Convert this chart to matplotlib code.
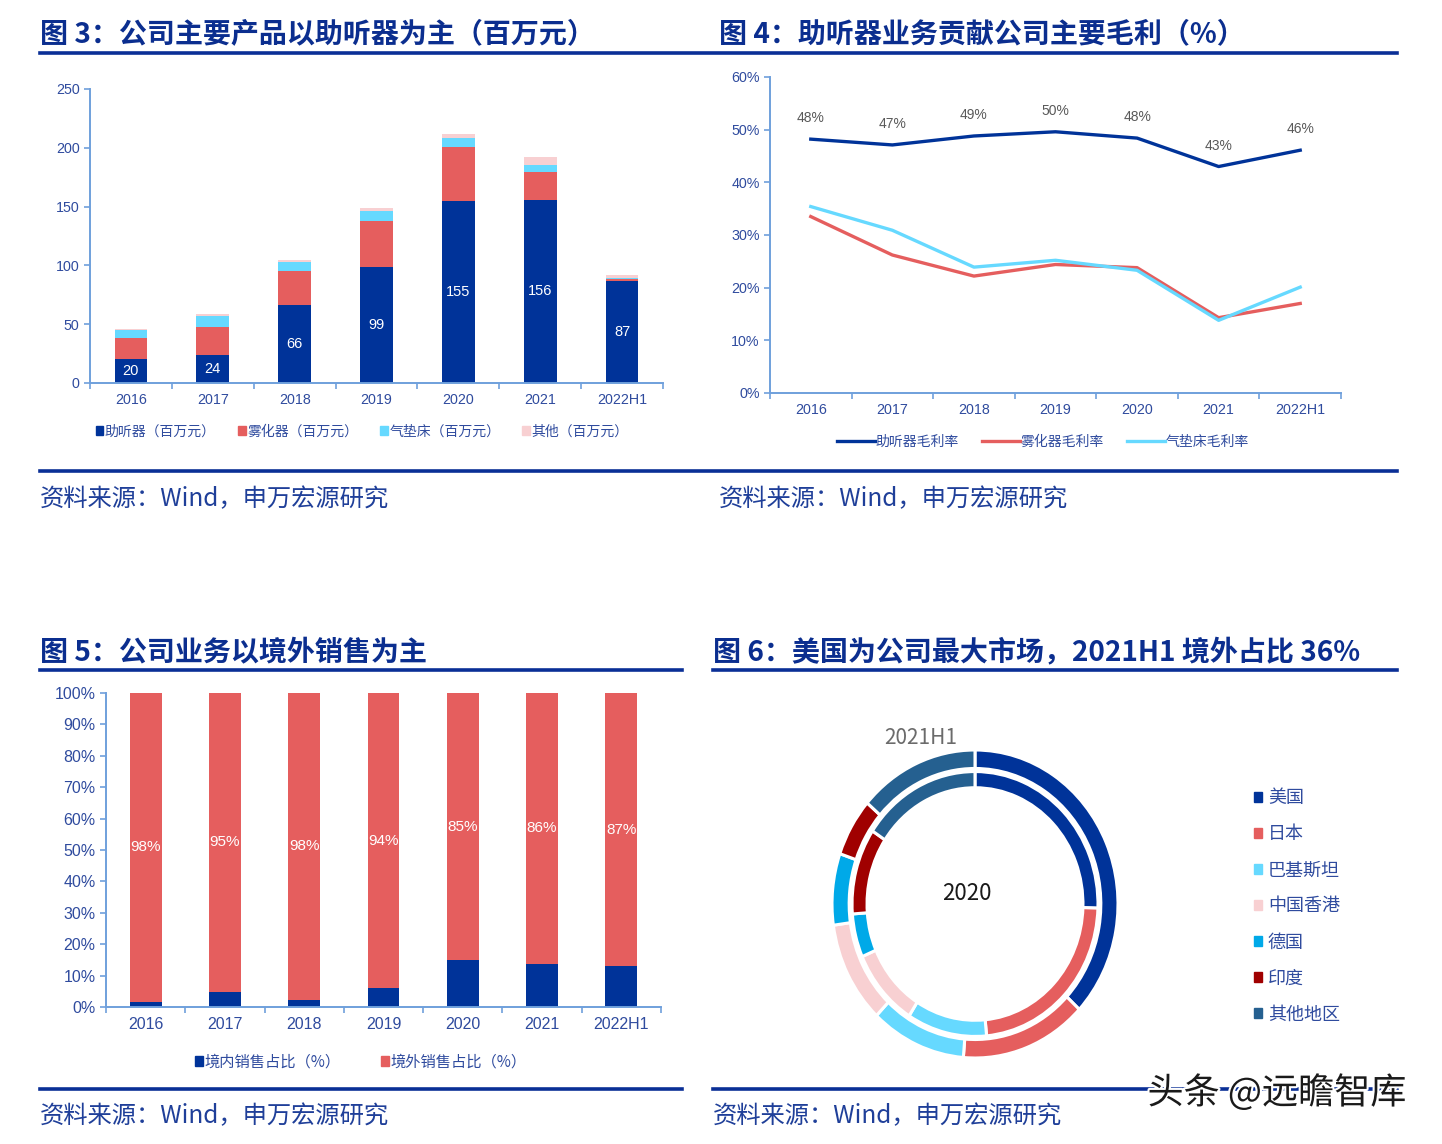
import numpy as np
import matplotlib
matplotlib.use('Agg')
import matplotlib.pyplot as plt
from matplotlib.patches import Patch
from matplotlib.lines import Line2D
import matplotlib.patheffects as pe

plt.rcParams['font.family'] = ['Noto Sans CJK SC', 'DejaVu Sans']
plt.rcParams['axes.unicode_minus'] = False

# ================================================================
# Data
# ================================================================
years = ['2016', '2017', '2018', '2019', '2020', '2021', '2022H1']

# Fig 3: revenue by product (million yuan)
hearing = [20, 24, 66, 99, 155, 156, 87]
nebulizer = [18.5, 23.5, 29, 39, 46, 23, 1.5]
air_bed = [6.5, 9.5, 7.5, 8, 7, 6, 0.5]
other = [1, 1.5, 2, 3, 4, 7, 3]
product_names = ['助听器（百万元）', '雾化器（百万元）', '气垫床（百万元）', '其他（百万元）']

# Fig 4: gross margin (%)
margin_hearing = [48.2, 47.1, 48.8, 49.6, 48.4, 43.0, 46.1]
margin_nebulizer = [33.5, 26.2, 22.2, 24.4, 23.8, 14.3, 17.0]
margin_air_bed = [35.4, 30.9, 23.9, 25.2, 23.3, 13.8, 20.1]
margin_names = ['助听器毛利率', '雾化器毛利率', '气垫床毛利率']

# Fig 5: domestic / overseas sales share (%)
domestic = [1.7, 4.8, 2.3, 6.0, 14.9, 13.8, 12.9]
overseas = [98.3, 95.2, 97.7, 94.0, 85.1, 86.2, 87.1]
sales_names = ['境内销售占比（%）', '境外销售占比（%）']

# Fig 6: overseas market split (%)
regions = ['美国', '日本', '巴基斯坦', '中国香港', '德国', '印度', '其他地区']
share_2021h1 = [37.0, 14.3, 10.8, 10.7, 7.5, 6.1, 13.6]
share_2020 = [25.5, 23.0, 10.5, 9.5, 5.3, 10.5, 15.7]

# ================================================================
# Style
# ================================================================
NAVY = '#003399'
RED = '#E55E5E'
CYAN = '#66D9FF'
PINK = '#F8D0D2'
DE_BLUE = '#00A9E8'
DARK_RED = '#A00000'
STEEL = '#256090'
TICK = '#2F4B9E'
SPINE = '#6FA0DC'
TITLE = '#0B2E8F'
RULE = '#0A2F96'
NUM = ['Liberation Sans', 'DejaVu Sans']

W, H = 1442, 1144
fig = plt.figure(figsize=(W / 100, H / 100), dpi=100)


def box(x0, x1, y_top, y_bot):
    return [x0 / W, 1 - y_bot / H, (x1 - x0) / W, (y_bot - y_top) / H]


def hline(x0, x1, y, lw=2.6):
    fig.add_artist(Line2D([x0 / W, x1 / W], [1 - y / H, 1 - y / H],
                          color=RULE, lw=lw, transform=fig.transFigure))


def ftext(x, y, s, **kw):
    fig.text(x / W, 1 - y / H, s, **kw)


def style_axis(ax, fs):
    for s in ['top', 'right']:
        ax.spines[s].set_visible(False)
    for s in ['left', 'bottom']:
        ax.spines[s].set_color(SPINE)
        ax.spines[s].set_linewidth(1.4)
    ax.tick_params(axis='y', colors=SPINE, labelcolor=TICK, length=4, width=1.2, labelsize=fs)
    ax.tick_params(axis='x', which='major', length=0, labelcolor=TICK, labelsize=fs, pad=7)
    ax.tick_params(axis='x', which='minor', colors=SPINE, length=4, width=1.2)
    ax.set_xticks(np.arange(-0.5, len(years), 1), minor=True)
    for lab in ax.get_xticklabels() + ax.get_yticklabels():
        lab.set_family(NUM)


# titles, rules, sources
title_kw = dict(fontsize=20.2, fontweight='bold', color=TITLE, va='center', ha='left')
ftext(40, 34, '图 3：公司主要产品以助听器为主（百万元）', **title_kw)
ftext(719, 34, '图 4：助听器业务贡献公司主要毛利（%）', **title_kw)
ftext(40, 652, '图 5：公司业务以境外销售为主', **title_kw)
ftext(713, 652, '图 6：美国为公司最大市场，2021H1 境外占比 36%', **title_kw)
hline(40, 1397, 53)
hline(40, 682, 670)
hline(713, 1397, 670)
hline(40, 1397, 471)
hline(40, 682, 1089)
hline(713, 1397, 1089)
src_kw = dict(fontsize=17.5, color='#1F3F99', va='center', ha='left')
ftext(40, 499, '资料来源：Wind，申万宏源研究', **src_kw)
ftext(719, 499, '资料来源：Wind，申万宏源研究', **src_kw)
ftext(40, 1116, '资料来源：Wind，申万宏源研究', **src_kw)
ftext(713, 1116, '资料来源：Wind，申万宏源研究', **src_kw)

# ================================================================
# Fig 3: stacked bars
# ================================================================
x = np.arange(len(years))
ax1 = fig.add_axes(box(90, 663, 89, 383))
bw = 0.4
b0 = np.zeros(len(years))
for vals, col in zip([hearing, nebulizer, air_bed, other], [NAVY, RED, CYAN, PINK]):
    ax1.bar(x, vals, bw, bottom=b0, color=col, linewidth=0)
    b0 = b0 + np.array(vals)
for xi, v in zip(x, hearing):
    ax1.text(xi, v / 2, f'{v}', ha='center', va='center', color='white',
             fontsize=10.5, family=NUM)
ax1.set_xlim(-0.5, len(years) - 0.5)
ax1.set_ylim(0, 250)
ax1.set_yticks(range(0, 251, 50))
ax1.set_xticks(x)
ax1.set_xticklabels(years)
style_axis(ax1, 10.3)
handles = [Patch(color=c) for c in [NAVY, RED, CYAN, PINK]]
ax1.legend(handles, product_names, loc='center', bbox_to_anchor=(0.475, -0.165),
           ncol=4, frameon=False, fontsize=10, handlelength=0.55, handleheight=0.55,
           handletextpad=0.1, columnspacing=1.6, labelcolor=TICK)

# ================================================================
# Fig 4: margin lines
# ================================================================
ax2 = fig.add_axes(box(770, 1341, 77, 393))
for vals, col in zip([margin_hearing, margin_nebulizer, margin_air_bed], [NAVY, RED, CYAN]):
    ax2.plot(x, vals, color=col, lw=2.4, solid_joinstyle='round')
for xi, v in zip(x, margin_hearing):
    ax2.annotate(f'{v:.0f}%', (xi, v), xytext=(0, 10), textcoords='offset points',
                 ha='center', va='bottom', color='#595959', fontsize=10, family=NUM)
ax2.set_xlim(-0.5, len(years) - 0.5)
ax2.set_ylim(0, 60)
ax2.set_yticks(range(0, 61, 10))
ax2.set_yticklabels([f'{t}%' for t in range(0, 61, 10)])
ax2.set_xticks(x)
ax2.set_xticklabels(years)
style_axis(ax2, 10.3)
lh = [Line2D([], [], color=c, lw=2.4) for c in [NAVY, RED, CYAN]]
ax2.legend(lh, margin_names, loc='center', bbox_to_anchor=(0.478, -0.155), ncol=3,
           frameon=False, fontsize=10, handlelength=2.7, handletextpad=0.05,
           columnspacing=1.7, labelcolor=TICK)

# ================================================================
# Fig 5: 100% stacked bars
# ================================================================
ax3 = fig.add_axes(box(106, 661, 693, 1007))
ax3.bar(x, domestic, bw, color=NAVY, linewidth=0)
ax3.bar(x, overseas, bw, bottom=domestic, color=RED, linewidth=0)
for xi, d, o in zip(x, domestic, overseas):
    ax3.text(xi, d + o / 2, f'{o:.0f}%', ha='center', va='center', color='white',
             fontsize=11, family=NUM)
ax3.set_xlim(-0.5, len(years) - 0.5)
ax3.set_ylim(0, 100)
ax3.set_yticks(range(0, 101, 10))
ax3.set_yticklabels([f'{t}%' for t in range(0, 101, 10)])
ax3.set_xticks(x)
ax3.set_xticklabels(years)
style_axis(ax3, 11.5)
ax3.legend([Patch(color=NAVY), Patch(color=RED)], sales_names, loc='center',
           bbox_to_anchor=(0.459, -0.175), ncol=2, frameon=False, fontsize=11,
           handlelength=0.55, handleheight=0.55, handletextpad=0.1,
           columnspacing=2.6, labelcolor=TICK)

# ================================================================
# Fig 6: double donut
# ================================================================
ax4 = fig.add_axes(box(832, 1118, 750, 1058))
pie_cols = [NAVY, RED, CYAN, PINK, DE_BLUE, DARK_RED, STEEL]
wp = dict(edgecolor='white', linewidth=2.2)
ax4.pie(share_2021h1, radius=1.0, colors=pie_cols, startangle=90, counterclock=False,
        wedgeprops=dict(width=0.12, **wp))
ax4.pie(share_2020, radius=0.86, colors=pie_cols, startangle=90, counterclock=False,
        wedgeprops=dict(width=0.105, **wp))
ax4.set_aspect('auto')
ax4.set_xlim(-1, 1)
ax4.set_ylim(-1, 1)
ax4.text(-0.06, 0.07, '2020', ha='center', va='center', fontsize=16, color='#1a1a1a')
ax4.text(-0.38, 1.08, '2021H1', ha='center', va='center', fontsize=15, color='#6b6b6b')
ax4.legend([Patch(color=c) for c in pie_cols], regions, loc='upper left',
           bbox_to_anchor=((1238 - 832) / 286, 1 - (773 - 750) / 308),
           frameon=False, fontsize=13, handlelength=0.45, handleheight=0.45,
           handletextpad=0.3, labelspacing=1.0, labelcolor=TICK)

# watermark
ftext(1277, 1093, '头条 @远瞻智库', fontsize=26, color='#1a1a1a', ha='center', va='center',
      path_effects=[pe.withStroke(linewidth=3, foreground='white')])

fig.savefig('out.png', dpi=100)
